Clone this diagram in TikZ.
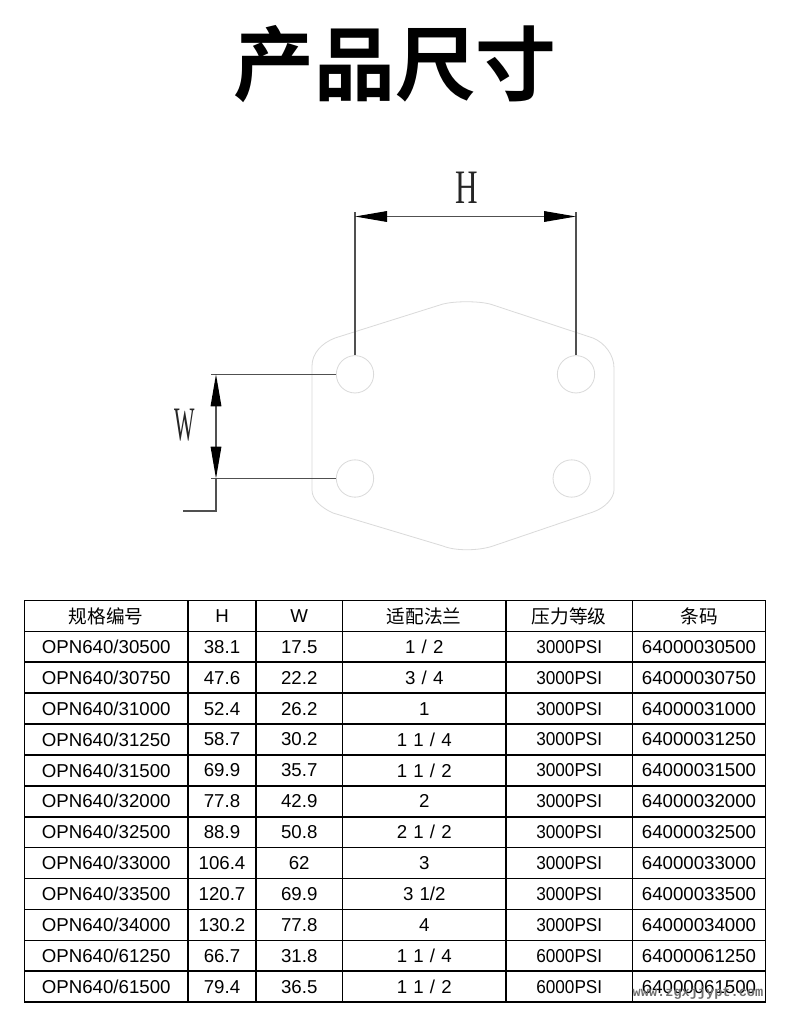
\documentclass[tikz,border=0pt]{standalone}
\usepackage{fontspec}
\usetikzlibrary{arrows.meta,positioning}
\setmainfont{Liberation Sans}
\newfontfamily\cjkfont{Noto Sans CJK SC}
\newfontfamily\titlefont{Noto Sans CJK SC Bold}
\newfontfamily\dimfont{Liberation Serif}
\newfontfamily\markfont{Liberation Mono}
\newfontfamily\psifont[FakeStretch=0.92]{Liberation Sans}
\definecolor{platecol}{HTML}{DADADA}
\definecolor{dimcol}{HTML}{505050}
\definecolor{markcol}{HTML}{6E6E6E}
\tikzstyle{hole}=[circle, draw=platecol, line width=0.6pt, inner sep=0pt, minimum size=28pt]
\tikzstyle{dimline}=[draw=dimcol, line width=0.8pt]
\tikzstyle{dimtip}=[{Triangle[length=24pt,width=8pt,fill=black,color=black]}-{Triangle[length=24pt,width=8pt,fill=black,color=black]}]
\tikzstyle{dimname}=[font=\dimfont\fontsize{36}{36}\selectfont, text=black!85, inner sep=0pt]
\tikzstyle{cell}=[draw, line width=1.25pt, inner sep=0pt, minimum height=23.17pt, font=\fontsize{14}{14}\selectfont]
\tikzstyle{cola}=[cell, minimum width=122.6pt]
\tikzstyle{colb}=[cell, minimum width=51pt]
\tikzstyle{colc}=[cell, minimum width=64.9pt]
\tikzstyle{cold}=[cell, minimum width=122.6pt, execute at begin node={\spaceskip=.33em\relax}]
\tikzstyle{cole}=[cell, minimum width=94.9pt]
\tikzstyle{colf}=[cell, minimum width=99.75pt]
% one table row: name, y, then the six cells
\newcommand{\tablerow}[8]{
	\node[cola] (#1a) at (106.25,#2) {#3};
	\node[colb] (#1b) at (222,#2) {#4};
	\node[colc] (#1c) at (299.25,#2) {#5};
	\node[cold] (#1d) at (424.25,#2) {#6};
	\node[cole] (#1e) at (569.25,#2) {#7};
	\node[colf] (#1f) at (699,#2) {#8};
}
\begin{document}
\begin{tikzpicture}[x=0.75pt,y=-0.75pt]
	\path[use as bounding box, fill=white] (0,0) rectangle (790,1015);
	\node[font=\titlefont\fontsize{60.7}{60}\selectfont, inner sep=0pt] (title) at (395,64.5) {产品尺寸};
	% plate
	\draw[platecol, line width=0.6pt]
	(443,304) .. controls (455,301) and (478,301) .. (490,304)
	-- (593,338) .. controls (605,343) and (614,355) .. (614,368)
	-- (614,490) .. controls (614,498) and (605,508) .. (593,512)
	-- (493,546) .. controls (478,551) and (455,551) .. (443,546)
	-- (333,513) .. controls (322,508) and (312,500) .. (312,490)
	-- (312,366) .. controls (312,353) and (322,343) .. (335,338)
	-- cycle;
	\node[hole] (tl) at (355,374.3) {};
	\node[hole] (tr) at (576,374.3) {};
	\node[hole] (bl) at (355,478.5) {};
	\node[hole] (br) at (571.7,478.5) {};
	% H
	\coordinate (hl) at (355,211.5);
	\coordinate (hr) at (576,211.5);
	\coordinate (ha) at (355,216.5);
	\coordinate (hb) at (576,216.5);
	\draw[dimline] (tl.north) -- (hl);
	\draw[dimline] (tr.north) -- (hr);
	\draw[dimline, dimtip] (ha) -- (hb);
	\node[dimname, xscale=0.65] (hname) at (466.5,188) {H};
	% W
	\coordinate (wl) at (211,374.3);
	\coordinate (wm) at (211,478.5);
	\coordinate (wa) at (216,374.3);
	\coordinate (wb) at (216,478.5);
	\coordinate (wc) at (216,511);
	\coordinate (wd) at (183,511);
	\draw[dimline] (tl.west) -- (wl);
	\draw[dimline] (bl.west) -- (wm);
	\draw[dimline, dimtip] (wa) -- (wb);
	\draw[dimline] (wb) -- (wc) -- (wd);
	\node[dimname, xscale=0.45] (wname) at (184.5,425) {W};
	% table
	\tablerow{rh}{615.9}{\cjkfont 规格编号}{H}{W}{\cjkfont 适配法兰}{\cjkfont 压力等级}{\cjkfont 条码}
	\tablerow{ra}{646.8}{OPN640/30500}{38.1}{17.5}{1 / 2}{\psifont 3000PSI}{64000030500}
	\tablerow{rb}{677.7}{OPN640/30750}{47.6}{22.2}{3 / 4}{\psifont 3000PSI}{64000030750}
	\tablerow{rc}{708.6}{OPN640/31000}{52.4}{26.2}{1}{\psifont 3000PSI}{64000031000}
	\tablerow{rd}{739.5}{OPN640/31250}{58.7}{30.2}{1 1 / 4}{\psifont 3000PSI}{64000031250}
	\tablerow{re}{770.4}{OPN640/31500}{69.9}{35.7}{1 1 / 2}{\psifont 3000PSI}{64000031500}
	\tablerow{rf}{801.3}{OPN640/32000}{77.8}{42.9}{2}{\psifont 3000PSI}{64000032000}
	\tablerow{rg}{832.2}{OPN640/32500}{88.9}{50.8}{2 1 / 2}{\psifont 3000PSI}{64000032500}
	\tablerow{ri}{863.1}{OPN640/33000}{106.4}{62}{3}{\psifont 3000PSI}{64000033000}
	\tablerow{rj}{894}{OPN640/33500}{120.7}{69.9}{3 1/2}{\psifont 3000PSI}{64000033500}
	\tablerow{rk}{924.9}{OPN640/34000}{130.2}{77.8}{4}{\psifont 3000PSI}{64000034000}
	\tablerow{rl}{955.8}{OPN640/61250}{66.7}{31.8}{1 1 / 4}{\psifont 6000PSI}{64000061250}
	\tablerow{rm}{986.7}{OPN640/61500}{79.4}{36.5}{1 1 / 2}{\psifont 6000PSI}{64000061500}
	\node[font=\markfont\bfseries\fontsize{10.2}{10}\selectfont, text=markcol, inner sep=0pt] (mark) at (698,993) {www.zgxjjypt.com};
\end{tikzpicture}
\end{document}
